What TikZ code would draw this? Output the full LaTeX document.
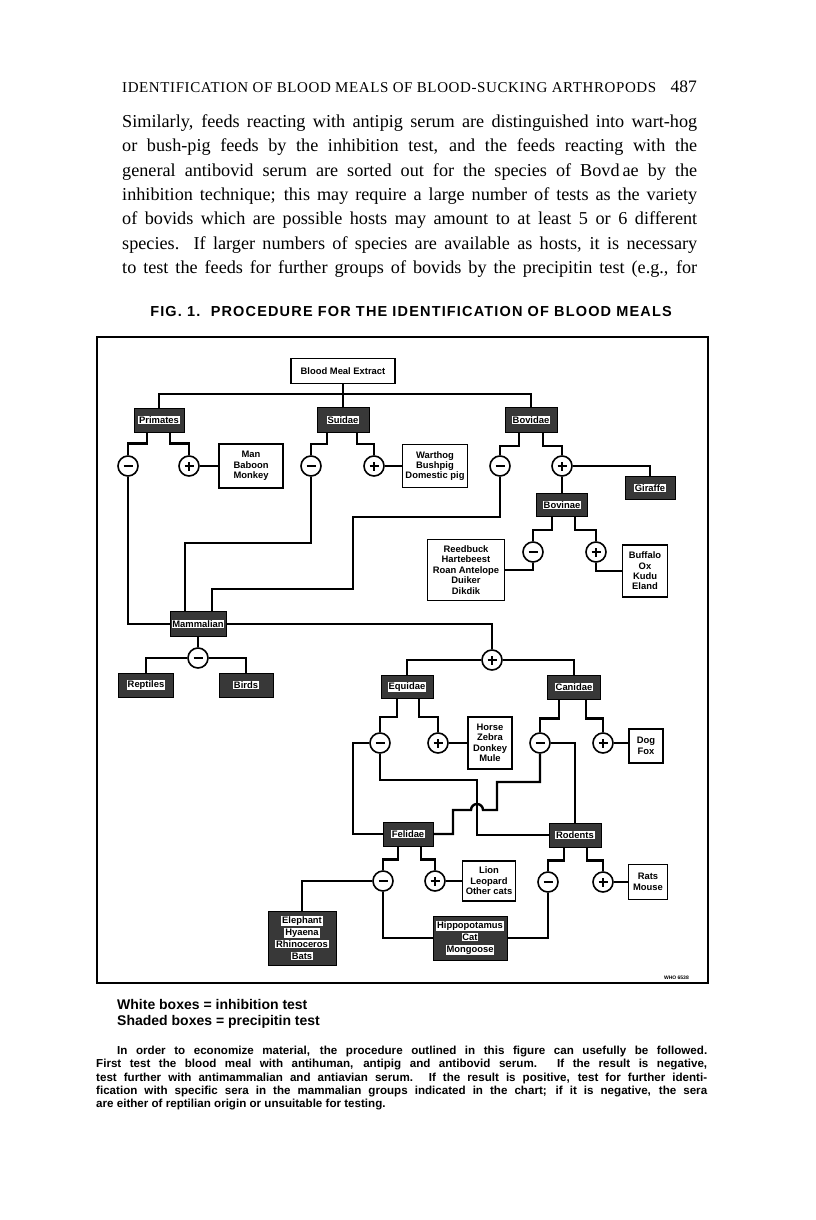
\documentclass[tikz,border=0pt]{standalone}
\usepackage{fontspec}
\setmainfont{Liberation Serif}
\setsansfont{Liberation Sans}
\usepackage{xcolor}
\usepackage{tikz}

\definecolor{shade}{gray}{0.22}
\newcommand{\diagfont}{\sffamily\bfseries\fontsize{9.4}{10.4}\selectfont}
\newcommand{\lbl}[1]{{\setlength{\fboxsep}{0.8pt}\colorbox{white}{#1}}}

\begin{document}
\begin{tikzpicture}[x=1pt, y=-1pt,
    conn/.style={line width=2.4pt},
    wbox/.style={draw, line width=1.3pt, fill=white, align=center, inner sep=1pt, font=\diagfont},
    sbox/.style={draw, line width=0.8pt, fill=shade, align=center, inner sep=1pt, font=\diagfont\fontsize{9.4}{12}\selectfont},
    negc/.style={circle, draw, fill=white, line width=1.6pt, minimum size=20pt, inner sep=0pt,
        path picture={\draw[line width=2.6pt] ([xshift=-4.5pt]path picture bounding box.center) -- ([xshift=4.5pt]path picture bounding box.center);}},
    posc/.style={circle, draw, fill=white, line width=1.6pt, minimum size=20pt, inner sep=0pt,
        path picture={\draw[line width=2.6pt] ([xshift=-4.5pt]path picture bounding box.center) -- ([xshift=4.5pt]path picture bounding box.center)
                                              ([yshift=-4.5pt]path picture bounding box.center) -- ([yshift=4.5pt]path picture bounding box.center);}}]
    \fill[white] (0,0) rectangle (816,1220);
    \useasboundingbox (0,0) rectangle (816,1220);

    \node[anchor=base west, inner sep=0pt, font=\fontsize{15}{18}\selectfont\addfontfeature{LetterSpace=4}] (runhead) at (122,93) {IDENTIFICATION OF BLOOD MEALS OF BLOOD-SUCKING ARTHROPODS};
    \node[anchor=base east, inner sep=0pt, font=\fontsize{17.5}{20}\selectfont] (pageno) at (697,93) {487};
    \node[anchor=north west, inner sep=0pt, text width=575pt, align=justify, font=\fontsize{18.2}{24.3}\selectfont] (para) at (122,114.5)
        {\parfillskip=0pt\hyphenpenalty=10000\exhyphenpenalty=10000\tolerance=9999
         Similarly, feeds reacting with antipig serum are distinguished into wart-hog\linebreak
         or bush-pig feeds by the inhibition test, and the feeds reacting with the\linebreak
         general antibovid serum are sorted out for the species of Bovd\,ae by the\linebreak
         inhibition technique; this may require a large number of tests as the variety\linebreak
         of bovids which are possible hosts may amount to at least 5 or 6 different\linebreak
         species. If larger numbers of species are available as hosts, it is necessary\linebreak
         to test the feeds for further groups of bovids by the precipitin test (e.g., for\par};
    \node[font=\sffamily\bfseries\fontsize{14.5}{16}\selectfont\addfontfeature{LetterSpace=8}] (caption) at (411,312) {FIG. 1.\ \ PROCEDURE FOR THE IDENTIFICATION OF BLOOD MEALS};

    \draw[line width=1.2pt] (97,337) rectangle (708,983);

    \node[wbox, minimum width=104pt, minimum height=25pt] (bme) at (343,371) {Blood Meal Extract};
    \coordinate (bus) at (343,394);
    \node[sbox, minimum width=50pt, minimum height=24pt] (prim) at (159,420) {\lbl{Primates}};
    \node[sbox, minimum width=52pt, minimum height=25pt] (suid) at (343,420) {\lbl{Suidae}};
    \node[sbox, minimum width=52pt, minimum height=25pt] (bovd) at (531,420) {\lbl{Bovidae}};

    \node[negc] (primM) at (128,466) {};
    \node[posc] (primP) at (189,466) {};
    \node[wbox, minimum width=64pt, minimum height=44pt] (man) at (251,466) {Man\\Baboon\\Monkey};
    \node[negc] (suidM) at (311,466) {};
    \node[posc] (suidP) at (374,466) {};
    \node[wbox, minimum width=65pt, minimum height=43pt] (wart) at (435,466) {Warthog\\Bushpig\\Domestic pig};
    \node[negc] (bovdM) at (500,466) {};
    \node[posc] (bovdP) at (562,466) {};
    \node[sbox, minimum width=50pt, minimum height=23pt] (giraffe) at (650,488) {\lbl{Giraffe}};
    \node[sbox, minimum width=51pt, minimum height=23pt] (bovn) at (562,505) {\lbl{Bovinae}};

    \node[negc] (bovnM) at (533,552) {};
    \node[posc] (bovnP) at (596,552) {};
    \node[wbox, minimum width=77pt, minimum height=61pt] (reed) at (466,570) {Reedbuck\\Hartebeest\\Roan Antelope\\Duiker\\Dikdik};
    \node[wbox, minimum width=45pt, minimum height=52pt] (buff) at (645,571) {Buffalo\\Ox\\Kudu\\Eland};

    \node[sbox, minimum width=56pt, minimum height=25pt] (mamm) at (198,624) {\lbl{Mammalian}};
    \node[negc] (mminus) at (198,658) {};
    \node[posc] (mplus) at (492,660) {};
    \node[sbox, minimum width=55pt, minimum height=24pt] (rept) at (146,685) {\lbl{Reptiles}};
    \node[sbox, minimum width=54pt, minimum height=24pt] (birds) at (246,685) {\lbl{Birds}};
    \node[sbox, minimum width=52pt, minimum height=23pt] (equi) at (407,687) {\lbl{Equidae}};
    \node[sbox, minimum width=53pt, minimum height=24pt] (cani) at (574,687) {\lbl{Canidae}};

    \node[negc] (equiM) at (380,743) {};
    \node[posc] (equiP) at (438,743) {};
    \node[wbox, minimum width=44pt, minimum height=52pt] (horse) at (490,743) {Horse\\Zebra\\Donkey\\Mule};
    \node[negc] (caniM) at (540,743) {};
    \node[posc] (caniP) at (603,743) {};
    \node[wbox, minimum width=34pt, minimum height=34pt] (dog) at (646,746) {Dog\\Fox};

    \node[sbox, minimum width=50pt, minimum height=24pt] (feli) at (408,834) {\lbl{Felidae}};
    \node[sbox, minimum width=52pt, minimum height=24pt] (rode) at (575,835) {\lbl{Rodents}};
    \node[negc] (feliM) at (383,881) {};
    \node[posc] (feliP) at (435,881) {};
    \node[wbox, minimum width=53pt, minimum height=40pt] (lion) at (489,881) {Lion\\Leopard\\Other cats};
    \node[negc] (rodeM) at (548,882) {};
    \node[posc] (rodeP) at (603,882) {};
    \node[wbox, minimum width=39pt, minimum height=35pt] (rats) at (648,882) {Rats\\Mouse};
    \node[sbox, minimum width=68pt, minimum height=54pt] (eleph) at (302,938) {\lbl{Elephant}\\\lbl{Hyaena}\\\lbl{Rhinoceros}\\\lbl{Bats}};
    \node[sbox, minimum width=74pt, minimum height=44pt] (hippo) at (470,938) {\lbl{Hippopotamus}\\\lbl{Cat}\\\lbl{Mongoose}};
    \node[anchor=east, inner sep=0pt, font=\sffamily\bfseries\fontsize{5}{6}\selectfont] (who) at (689,978) {WHO 6538};

    \draw[conn] (bme) -- (suid);
    \draw[conn] (prim) |- (bus) -| (bovd);
    \draw[conn] ([xshift=-12pt]prim.south) -- ++(0,11) -| (primM);
    \draw[conn] ([xshift=11pt]prim.south) -- ++(0,11) -| (primP);
    \draw[conn] (primP) -- (man);
    \draw[conn] ([xshift=-16pt]suid.south) -- ++(0,11) -| (suidM);
    \draw[conn] ([xshift=14pt]suid.south) -- ++(0,11) -| (suidP);
    \draw[conn] (suidP) -- (wart);
    \draw[conn] ([xshift=-12pt]bovd.south) -- ++(0,13) -| (bovdM);
    \draw[conn] ([xshift=12pt]bovd.south) -- ++(0,13) -| (bovdP);
    \draw[conn] (bovdP) -| (giraffe);
    \draw[conn] (bovdP) -- (bovn);
    \draw[conn] ([xshift=-10pt]bovn.south) -- ++(0,13) -| (bovnM);
    \draw[conn] ([xshift=13pt]bovn.south) -- ++(0,13) -| (bovnP);
    \draw[conn] (bovnM) |- (reed);
    \draw[conn] (bovnP) |- (buff);

    \draw[conn] (primM) |- (mamm);
    \draw[conn] (suidM) -- ++(0,77) -| ([xshift=-13pt]mamm.north);
    \draw[conn] (bovdM) -- ++(0,51) -| ++(-147,72) -| ([xshift=14pt]mamm.north);
    \draw[conn] (mamm) -| (mplus);
    \draw[conn] (mamm) -- (mminus);
    \draw[conn] (mminus) -| (rept);
    \draw[conn] (mminus) -| (birds);
    \draw[conn] (mplus) -| (equi);
    \draw[conn] (mplus) -| (cani);

    \draw[conn] ([xshift=-10pt]equi.south) -- ++(0,18) -| (equiM);
    \draw[conn] ([xshift=12pt]equi.south) -- ++(0,18) -| (equiP);
    \draw[conn] (equiP) -- (horse);
    \draw[conn] ([xshift=-15pt]cani.south) -- ++(0,19) -| (caniM);
    \draw[conn] ([xshift=12pt]cani.south) -- ++(0,19) -| (caniP);
    \draw[conn] (caniP) -- (caniP -| dog.west);
    \draw[conn] (equiM) -- ++(-27,0) |- (feli);
    \draw[conn] (equiM) -- ++(0,37) -- ++(97,0) |- (rode);
    \draw[conn] (caniM) -| (rode);
    \draw[conn] (caniM) -- ++(0,39) -- ++(-43,0) -- ++(0,28) -- ++(-14,0) arc[start angle=0, end angle=180, radius=6pt] -- ++(-18,0) |- (feli);

    \draw[conn] ([xshift=-10pt]feli.south) -- ++(0,13) -| (feliM);
    \draw[conn] ([xshift=13pt]feli.south) -- ++(0,13) -| (feliP);
    \draw[conn] (feliP) -- (lion);
    \draw[conn] (feliM) -| (eleph);
    \draw[conn] (feliM) |- (hippo);
    \draw[conn] ([xshift=-11pt]rode.south) -- ++(0,13) -| (rodeM);
    \draw[conn] ([xshift=12pt]rode.south) -- ++(0,13) -| (rodeP);
    \draw[conn] (rodeP) -- (rats);
    \draw[conn] (rodeM) |- (hippo);

    \node[anchor=base west, inner sep=0pt, font=\sffamily\bfseries\fontsize{14}{16}\selectfont] (legw) at (117,1009) {White boxes = inhibition test};
    \node[anchor=base west, inner sep=0pt, font=\sffamily\bfseries\fontsize{14}{16}\selectfont] (legs) at (117,1025) {Shaded boxes = precipitin test};
    \node[anchor=north west, inner sep=0pt, text width=611pt, align=justify, font=\sffamily\bfseries\fontsize{11.6}{13.3}\selectfont] (note) at (96,1046)
        {\hyphenpenalty=10000\exhyphenpenalty=10000\tolerance=9999
         \hspace*{21pt}In order to economize material, the procedure outlined in this figure can usefully be followed.\linebreak
         First test the blood meal with antihuman, antipig and antibovid serum. If the result is negative,\linebreak
         test further with antimammalian and antiavian serum. If the result is positive, test for further identi-\linebreak
         fication with specific sera in the mammalian groups indicated in the chart; if it is negative, the sera\linebreak
         are either of reptilian origin or unsuitable for testing.};
\end{tikzpicture}
\end{document}
